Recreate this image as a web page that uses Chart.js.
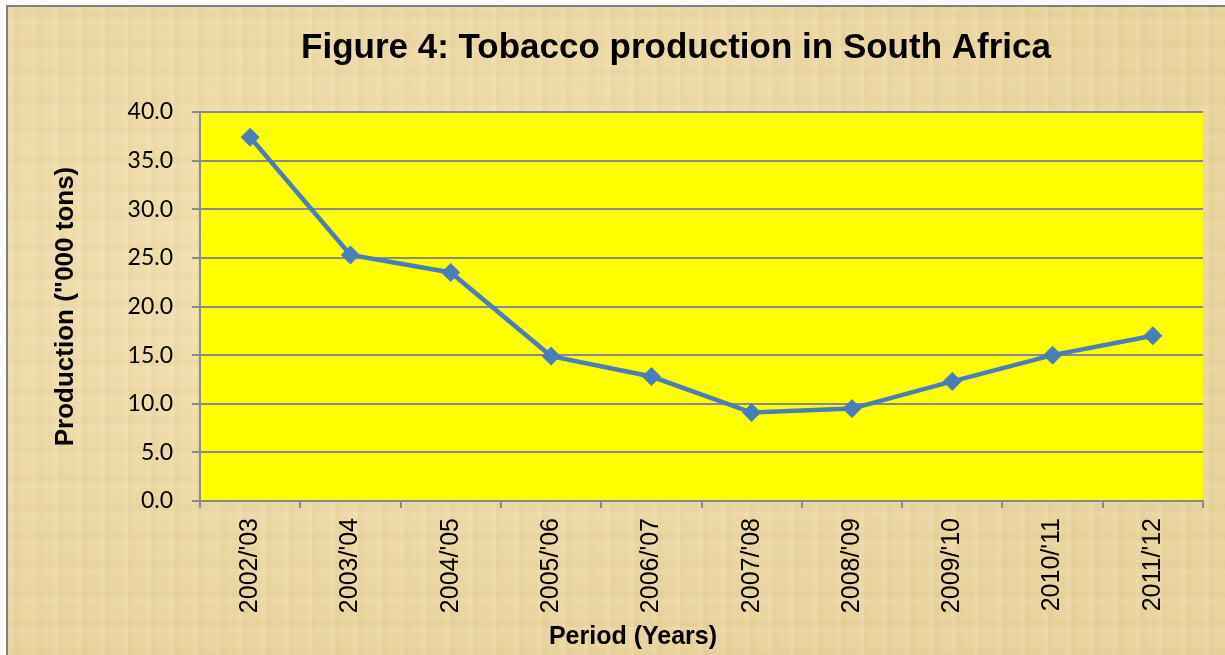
<!DOCTYPE html>
<html>
<head>
<meta charset="utf-8">
<title>Tobacco production in South Africa</title>
<script src="https://cdn.jsdelivr.net/npm/chart.js@4.4.0/dist/chart.umd.min.js"></script>
<style>
  html, body { margin: 0; padding: 0; background: #fff; }
  body { width: 1225px; height: 655px; position: relative; overflow: hidden; }
  .paper {
    position: absolute; left: 6px; top: 5px; width: 1225px; height: 655px;
    border-left: 2px solid #7f7f7f; border-top: 2px solid #7f7f7f;
    background-color: #ecd8a5;
    background-image:
      repeating-linear-gradient(90deg, rgba(255,248,225,0.10) 0 5px, rgba(170,130,60,0.035) 5px 11px, transparent 11px 23px),
      repeating-linear-gradient(0deg, rgba(255,245,215,0.08) 0 6px, rgba(160,120,50,0.03) 6px 13px, transparent 13px 29px),
      radial-gradient(ellipse at 30% 40%, rgba(248,232,190,0.5), rgba(222,195,130,0.2) 75%);
  }
  #chart { position: absolute; left: 0; top: 0; }
</style>
</head>
<body>
<div class="paper"></div>
<canvas id="chart" width="1225" height="655"></canvas>
<script>
// data
const periods = ["2002/'03", "2003/'04", "2004/'05", "2005/'06", "2006/'07",
                 "2007/'08", "2008/'09", "2009/'10", "2010/'11", "2011/'12"];
const production = [37.4, 25.3, 23.5, 14.9, 12.8, 9.1, 9.5, 12.3, 15.0, 17.0];
const yTickValues = [0, 5, 10, 15, 20, 25, 30, 35, 40];

const chartTitle = 'Figure 4: Tobacco production in South Africa';
const xTitle = 'Period (Years)';
const yTitle = 'Production ("000 tons)';

// yellow plot area + the two centred titles
const decor = {
    id: 'decor',
    beforeDraw(chart) {
        const a = chart.chartArea;
        const ctx = chart.ctx;
        ctx.save();
        ctx.fillStyle = '#ffff00';
        ctx.fillRect(a.left, a.top, a.right - a.left, a.bottom - a.top);
        ctx.restore();
    },
    afterDraw(chart) {
        const ctx = chart.ctx;
        ctx.save();
        ctx.fillStyle = '#000';
        ctx.textAlign = 'center';
        ctx.textBaseline = 'middle';
        ctx.font = 'bold 35px "Liberation Sans", Arial, sans-serif';
        ctx.fillText(chartTitle, 676, 48);
        ctx.font = 'bold 25px "Liberation Sans", Arial, sans-serif';
        ctx.fillText(xTitle, 633, 637);
        ctx.restore();
    }
};

const ctx = document.getElementById('chart').getContext('2d');
new Chart(ctx, {
    type: 'line',
    data: {
        labels: periods,
        datasets: [{
            label: 'Production',
            data: production,
            borderColor: '#4a7ebb',
            backgroundColor: '#4a7ebb',
            borderWidth: 4.5,
            tension: 0,
            pointStyle: 'rectRot',
            pointRadius: 9,
            pointHoverRadius: 9,
            pointBackgroundColor: '#4a7ebb',
            pointBorderColor: '#4a7ebb',
            pointBorderWidth: 1
        }]
    },
    options: {
        responsive: false,
        animation: false,
        layout: {
            padding: { left: 0, right: 22, top: 112, bottom: 0 }
        },
        scales: {
            x: {
                offset: true,
                afterFit: function(scale) { scale.height = 154; },
                grid: {
                    offset: true,
                    drawOnChartArea: false,
                    drawTicks: true,
                    tickLength: 7,
                    color: '#8a8a8a',
                    lineWidth: 2
                },
                border: { color: '#8a8a8a', width: 2 },
                ticks: {
                    minRotation: 90,
                    maxRotation: 90,
                    padding: 10,
                    color: '#000',
                    font: { family: '"Liberation Sans", Arial, sans-serif', size: 25 }
                }
            },
            y: {
                min: 0,
                max: 40,
                afterFit: function(scale) { scale.width = 200; },
                afterBuildTicks: function(scale) {
                    scale.ticks = yTickValues.map(v => ({ value: v }));
                },
                grid: {
                    color: '#8a8a8a',
                    lineWidth: 2,
                    tickLength: 8
                },
                border: { color: '#8a8a8a', width: 2 },
                ticks: {
                    padding: 19,
                    color: '#000',
                    font: { family: 'Lato, "Open Sans", sans-serif', size: 23 },
                    callback: function(value) {
                        return value.toFixed(1);
                    }
                },
                title: {
                    display: true,
                    text: yTitle,
                    color: '#000',
                    padding: { top: 50, bottom: 0 },
                    font: { family: '"Liberation Sans", Arial, sans-serif', size: 26, weight: 'bold' }
                }
            }
        },
        plugins: {
            legend: { display: false },
            title: { display: false },
            tooltip: { enabled: false }
        }
    },
    plugins: [decor]
});
</script>
</body>
</html>
